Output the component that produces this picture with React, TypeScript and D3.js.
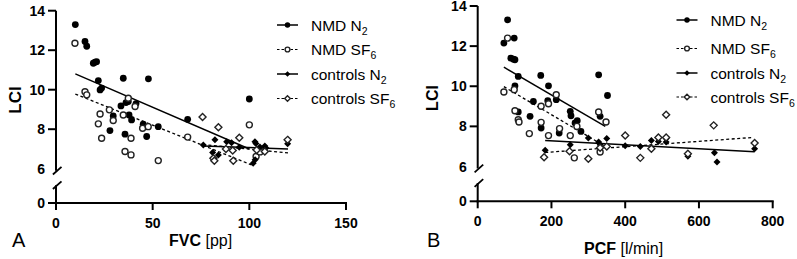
import React from 'react';
import * as d3 from 'd3';

type P = [number, number];

// ---------- Panel A: LCI vs FVC [pp] ----------
const nmdN2A: P[] = [
  [10, 13.3], [15, 12.44], [15.9, 12.2], [19.3, 11.34], [20.2, 11.39], [21, 11.42],
  [21.9, 10.46], [22.8, 9.99], [23.6, 10.08], [34.8, 10.58], [47.8, 10.55], [33.6, 9.18],
  [37.4, 9.4], [36.2, 9.35], [41.4, 9.3], [37.8, 8.72], [39.1, 8.47], [29.6, 8.67], [45.1, 8.25],
  [46.9, 7.63], [52.9, 8.13], [27.9, 7.93], [35.7, 7.75], [68.1, 8.5], [100, 9.53],
];
const nmdSF6A: P[] = [
  [9.8, 12.35], [15, 9.9], [15.9, 9.74], [27.6, 8.98], [22.8, 8.77], [29.6, 8.44],
  [21.9, 8.27], [34.8, 8.72], [37.4, 9.57], [40.9, 9.15], [38.8, 7.54], [44.8, 8.05],
  [47.7, 8.13], [23.6, 7.54], [35.7, 6.87], [38.8, 6.7], [52.9, 6.41], [68.1, 7.6],
  [100, 8.22], [103.5, 6.62], [105.5, 6.85],
];
const ctrlN2A: P[] = [
  [76.2, 7.2], [82.2, 7.46], [81, 6.82], [84, 6.7], [88.3, 7.37], [90.8, 7.32], [94.8, 7.09],
  [102.9, 7.37], [103.4, 7.28], [105.5, 7.1], [108, 7.15], [108.6, 7.05], [102, 6.28], [103, 6.45],
  [119.8, 7.26],
];
const ctrlSF6A: P[] = [
  [75.8, 8.62], [84, 8.1], [94.8, 7.57], [81.4, 6.53], [81.9, 6.4], [91.7, 6.4], [87.9, 7.0],
  [91.4, 6.92], [103.8, 6.95], [108, 6.87], [119.8, 7.46],
];
// regression lines [x0, y0, x1, y1]
const fitA: [number, number, number, number][] = [
  [10, 10.8, 100, 7.0],
  [10, 9.78, 102, 6.16],
  [76, 7.15, 120, 7.0],
  [76, 7.22, 120, 6.8],
];

// ---------- Panel B: LCI vs PCF [l/min] ----------
const nmdN2B: P[] = [
  [81, 13.31], [71, 12.15], [99, 12.4], [90, 11.4], [97, 11.35], [101, 11.32], [110, 10.49],
  [101, 10.02], [171, 10.54], [192, 10.02], [151, 9.24], [190, 9.28], [213, 9.33], [110, 8.72],
  [142, 8.5], [251, 8.75], [253, 8.53], [264, 8.17], [270, 8.28], [280, 7.75], [172, 7.92],
  [221, 7.67], [328, 10.57], [352, 9.54], [332, 8.5],
];
const nmdSF6B: P[] = [
  [81, 12.4], [71, 9.71], [99, 9.83], [101, 8.78], [110, 8.33], [112, 8.22], [172, 9.0],
  [192, 9.13], [213, 9.58], [172, 8.2], [140, 7.64], [192, 7.54], [222, 7.89], [251, 7.54],
  [269, 8.0], [262, 6.43], [328, 8.72], [348, 8.22], [332, 6.72],
];
const ctrlN2B: P[] = [
  [183, 6.81], [251, 7.09], [300, 7.42], [328, 7.22], [350, 7.39], [400, 7.04], [441, 7.0],
  [471, 7.3], [490, 7.25], [511, 7.39], [511, 7.22], [570, 6.51], [642, 6.68], [649, 6.23],
  [751, 6.88], [332, 7.09],
];
const ctrlSF6B: P[] = [
  [180, 6.46], [249, 6.76], [300, 6.39], [400, 7.55], [441, 6.43], [471, 6.89], [490, 7.45],
  [511, 7.45], [511, 8.58], [570, 6.63], [640, 8.05], [751, 7.17], [332, 6.93], [350, 7.0],
];
const fitB: [number, number, number, number][] = [
  [71, 10.95, 346, 8.0],
  [71, 9.98, 346, 7.0],
  [183, 7.29, 751, 6.73],
  [183, 6.7, 748, 7.45],
];

const legendNames = ['NMD N', 'NMD SF', 'controls N', 'controls SF'];
const legendSubs = ['2', '6', '2', '6'];
const markerKinds = ['fc', 'oc', 'fd', 'od'];
const dashed = [false, true, false, true];
const yTicksTop = [8, 10, 12, 14];

const FONT = 'Arial, "Liberation Sans", sans-serif';

function Marker({ kind, x, y, s = 1 }: { kind: string; x: number; y: number; s?: number }) {
  if (kind === 'fc') return <circle cx={x} cy={y} r={3.4 * s} fill="#000" />;
  if (kind === 'oc')
    return <circle cx={x} cy={y} r={3.0 * s} fill="#fff" stroke="#222" strokeWidth={1.4} />;
  const d = 3.5 * s;
  const path = `M${x},${y - d}L${x + d},${y}L${x},${y + d}L${x - d},${y}Z`;
  if (kind === 'fd') return <path d={path} fill="#000" />;
  return <path d={path} fill="#fff" stroke="#222" strokeWidth={1.4} />;
}

interface PanelCfg {
  ax: number;
  xEnd: number;
  xMax: number;
  xTicks: number[];
  y14: number;
  y6: number;
  y0: number;
  series: P[][];
  fits: [number, number, number, number][];
  legX: number;
  legRows: number[];
  letter: string;
  letterX: number;
  title: string;
  unit: string;
  titleX: number;
  titleY: number;
  lciX: number;
  lciY: number;
  lciSize: number;
}

function Panel({ c }: { c: PanelCfg }) {
  const x = d3.scaleLinear().domain([0, c.xMax]).range([c.ax, c.xEnd]);
  const y = d3.scaleLinear().domain([6, 14]).range([c.y6, c.y14]);
  const line = d3.line<[number, number]>().x((d) => x(d[0])).y((d) => y(d[1]));
  const sU = c.y6 + 2;
  const sL = c.y6 + 16.5;
  const sx = c.ax + 1.2;
  return (
    <g fontFamily={FONT}>
      {/* regression lines */}
      {c.fits.map((f, i) => (
        <path
          key={'f' + i}
          d={line([[f[0], f[1]], [f[2], f[3]]]) || ''}
          fill="none"
          stroke="#000"
          strokeWidth={dashed[i] ? 1.3 : 1.5}
          strokeDasharray={dashed[i] ? '3,2.5' : undefined}
        />
      ))}
      {/* points */}
      {c.series.map((s, i) =>
        s.map((p, j) => <Marker key={`m${i}-${j}`} kind={markerKinds[i]} x={x(p[0])} y={y(p[1])} />)
      )}
      {/* y axis (with break) */}
      <line x1={c.ax} x2={c.ax} y1={c.y14} y2={sU} stroke="#000" strokeWidth={2} />
      <line x1={c.ax} x2={c.ax} y1={sL} y2={c.y0 + 1} stroke="#000" strokeWidth={2} />
      <line x1={sx - 4.3} y1={sU + 3.8} x2={sx + 4.3} y2={sU - 3.8} stroke="#000" strokeWidth={1.8} />
      <line x1={sx - 4.3} y1={sL + 3.8} x2={sx + 4.3} y2={sL - 3.8} stroke="#000" strokeWidth={1.8} />
      {yTicksTop.map((t) => (
        <g key={'yt' + t}>
          <line x1={c.ax - 8} x2={c.ax} y1={y(t)} y2={y(t)} stroke="#000" strokeWidth={2} />
          <text x={c.ax - 11} y={y(t)} dy="0.36em" textAnchor="end" fontSize={14} fontWeight="bold">
            {t}
          </text>
        </g>
      ))}
      <text x={c.ax - 11} y={y(6)} dy="0.36em" textAnchor="end" fontSize={14} fontWeight="bold">
        6
      </text>
      <line x1={c.ax - 8} x2={c.ax} y1={c.y0} y2={c.y0} stroke="#000" strokeWidth={2} />
      <text x={c.ax - 11} y={c.y0} dy="0.36em" textAnchor="end" fontSize={14} fontWeight="bold">
        0
      </text>
      {/* x axis */}
      <line x1={c.ax - 1} x2={c.xEnd + 1} y1={c.y0} y2={c.y0} stroke="#000" strokeWidth={2} />
      {c.xTicks.map((t) => (
        <g key={'xt' + t}>
          <line x1={x(t)} x2={x(t)} y1={c.y0} y2={c.y0 + 7} stroke="#000" strokeWidth={2} />
          <text x={x(t)} y={c.y0 + 25} textAnchor="middle" fontSize={14} fontWeight="bold">
            {t}
          </text>
        </g>
      ))}
      {/* legend */}
      {legendNames.map((n, i) => (
        <g key={'lg' + i}>
          <line
            x1={c.legX}
            x2={c.legX + 21}
            y1={c.legRows[i]}
            y2={c.legRows[i]}
            stroke="#000"
            strokeWidth={dashed[i] ? 1.1 : 1.5}
            strokeDasharray={dashed[i] ? '2.5,2' : undefined}
          />
          <Marker kind={markerKinds[i]} x={c.legX + 10.5} y={c.legRows[i]} s={0.8} />
          <text x={c.legX + 34} y={c.legRows[i] + 5.5} fontSize={15.5}>
            {n}
            <tspan fontSize={10.5} dy={4}>
              {legendSubs[i]}
            </tspan>
          </text>
        </g>
      ))}
      {/* titles */}
      <text
        transform={`translate(${c.lciX},${c.lciY}) rotate(-90)`}
        textAnchor="middle"
        fontSize={c.lciSize}
        fontWeight="bold"
      >
        LCI
      </text>
      <text x={c.titleX} y={c.titleY} fontSize={16}>
        <tspan fontWeight="bold">{c.title}</tspan> {c.unit}
      </text>
      <text x={c.letterX} y={247} fontSize={20}>
        {c.letter}
      </text>
    </g>
  );
}

const panelA: PanelCfg = {
  ax: 56,
  xEnd: 346,
  xMax: 150,
  xTicks: [0, 50, 100, 150],
  y14: 10.7,
  y6: 168.7,
  y0: 203,
  series: [nmdN2A, nmdSF6A, ctrlN2A, ctrlSF6A],
  fits: fitA,
  legX: 277,
  legRows: [25, 49.5, 74, 98.5],
  letter: 'A',
  letterX: 12,
  title: 'FVC',
  unit: '[pp]',
  titleX: 169,
  titleY: 246,
  lciX: 21,
  lciY: 100,
  lciSize: 17,
};

const panelB: PanelCfg = {
  ax: 477.7,
  xEnd: 772.7,
  xMax: 800,
  xTicks: [0, 200, 400, 600, 800],
  y14: 6,
  y6: 166.5,
  y0: 201.3,
  series: [nmdN2B, nmdSF6B, ctrlN2B, ctrlSF6B],
  fits: fitB,
  legX: 676.5,
  legRows: [20, 48.5, 73, 97],
  letter: 'B',
  letterX: 427,
  title: 'PCF',
  unit: '[l/min]',
  titleX: 584,
  titleY: 254,
  lciX: 438,
  lciY: 98,
  lciSize: 16,
};

export default function App() {
  return (
    <svg
      width={797}
      height={259}
      style={{ position: 'absolute', left: 0, top: 0, background: '#fff' }}
    >
      <rect width={797} height={259} fill="#fff" />
      <Panel c={panelA} />
      <Panel c={panelB} />
    </svg>
  );
}
